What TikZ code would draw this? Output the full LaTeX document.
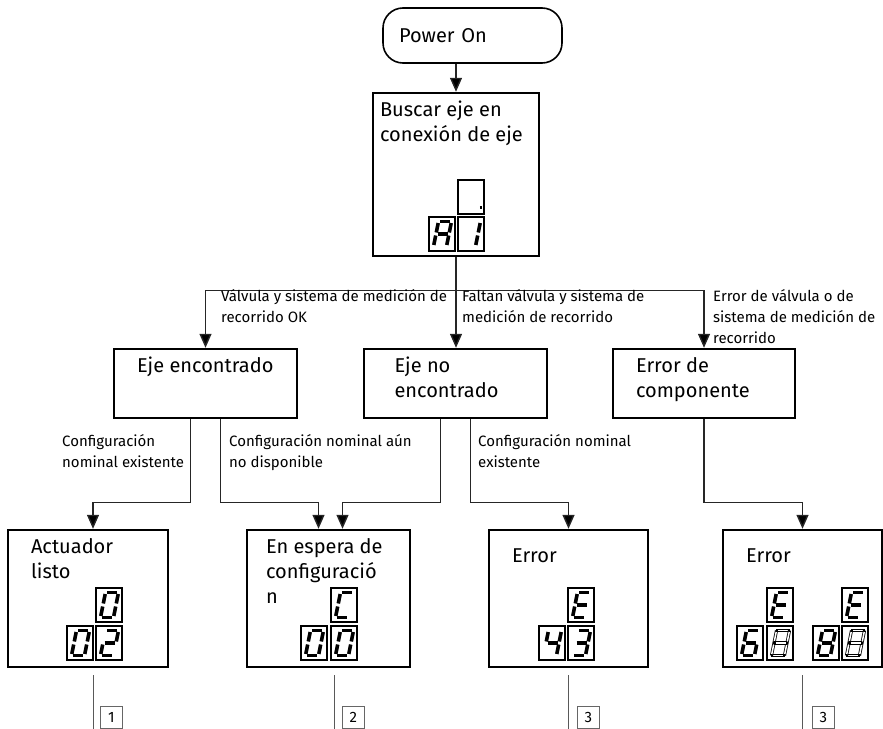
\documentclass[tikz,border=0pt]{standalone}
\usepackage{fontspec}
\setmainfont{Fira Sans}
\usetikzlibrary{arrows.meta,positioning}

\tikzset{
  stepbox/.style={draw, line width=2.4pt, inner sep=0pt},
  boxtext/.style={font=\fontsize{20}{25}\selectfont, align=left, inner sep=0pt, anchor=base west},
  note/.style={font=\fontsize{15}{21}\selectfont, align=left, inner sep=0pt, anchor=base west},
  flow/.style={draw=black!85, line width=1.4pt, -{Triangle[length=14pt,width=12pt,fill=black]}},
  tail/.style={draw=black!65, line width=0.9pt},
  numbox/.style={draw=black!60, line width=0.8pt, minimum width=22pt, minimum height=22pt,
    inner sep=0pt, font=\fontsize{15}{18}\selectfont},
  dispframe/.style={draw, line width=1.3pt},
  segon/.style={line width=3.6pt},
  segghost/.style={draw=white, line width=1.5pt, preaction={draw=black, line width=3.1pt, line cap=rect}},
  seg a/.style={draw=none}, seg b/.style={draw=none}, seg c/.style={draw=none},
  seg d/.style={draw=none}, seg e/.style={draw=none}, seg f/.style={draw=none},
  seg g/.style={draw=none}, seg p/.style={draw=none},
  lit/.style={seg #1/.style={segon}},
  ghost/.style={seg #1/.style={segghost}},
}

% seven segment display, #2 = top left corner
\newcommand{\segdisp}[3][lit]{%
  \begin{scope}[shift={#2}, #1/.list={#3}]
    \draw[dispframe] (0,0) rectangle (26,34);
    \foreach \s/\p/\q in {a/{11,4.5}/{21,4.5}, b/{22.2,6}/{20.3,15.5},
        c/{19.7,18.5}/{17.8,28}, d/{6,29.5}/{16,29.5}, e/{6.7,18.5}/{4.8,28},
        f/{9.2,6}/{7.3,15.5}, g/{8.5,17}/{18.5,17}, p/{21.8,27.5}/{24,27.5}}
      \draw[seg \s] (\p) -- (\q);
  \end{scope}}

\begin{document}
\begin{tikzpicture}[x=1pt, y=-1pt]
  \useasboundingbox (0,0) rectangle (883,728);

  % boxes
  \node[stepbox, line width=1.6pt, rounded corners=20pt, minimum width=179pt, minimum height=55pt,
    text width=147pt, align=left, font=\fontsize{20}{25}\selectfont] (power) at (472.5,35.5) {Power On};
  \node[stepbox, minimum width=166pt, minimum height=163pt] (busca) at (456,174.5) {};
  \node[stepbox, minimum width=183pt, minimum height=69pt] (ejeok) at (205.5,383.5) {};
  \node[stepbox, minimum width=183pt, minimum height=69pt] (ejeno) at (455.5,383.5) {};
  \node[stepbox, minimum width=182pt, minimum height=69pt] (errcomp) at (704,383.5) {};
  \node[stepbox, minimum width=160pt, minimum height=137pt] (listo) at (88,598.5) {};
  \node[stepbox, minimum width=163pt, minimum height=137pt] (espera) at (328.5,598.5) {};
  \node[stepbox, minimum width=159pt, minimum height=137pt] (err43) at (568.5,598.5) {};
  \node[stepbox, minimum width=159pt, minimum height=137pt] (err68) at (802.5,598.5) {};

  % box texts (base = last line)
  \node[boxtext] (busca-t) at ([shift={(8,49.5)}]busca.north west) {Buscar eje en\\conexión de eje};
  \node[boxtext] (ejeok-t) at ([shift={(24,25)}]ejeok.north west) {Eje encontrado};
  \node[boxtext] (ejeno-t) at ([shift={(31.5,50)}]ejeno.north west) {Eje no\\encontrado};
  \node[boxtext] (errcomp-t) at ([shift={(24,50)}]errcomp.north west) {Error de\\componente};
  \node[boxtext] (listo-t) at ([shift={(24,50)}]listo.north west) {Actuador\\listo};
  \node[boxtext] (espera-t) at ([shift={(20,75)}]espera.north west) {En espera de\\configuració\\n};
  \node[boxtext] (err43-t) at ([shift={(24,34)}]err43.north west) {Error};
  \node[boxtext] (err68-t) at ([shift={(24,34)}]err68.north west) {Error};

  % displays
  \segdisp{(458,180)}{p}
  \segdisp{(429,217)}{a,b,c,e,f,g}
  \segdisp{(458,217)}{b,c}
  \segdisp{(96,588)}{a,b,c,d,e,f}
  \segdisp{(67,626)}{a,b,c,d,e,f}
  \segdisp{(96,626)}{a,b,g,e,d}
  \segdisp{(331,588)}{a,f,e,d}
  \segdisp{(301,626)}{a,b,c,d,e,f}
  \segdisp{(331,626)}{a,b,c,d,e,f}
  \segdisp{(568,588)}{a,f,g,e,d}
  \segdisp{(539,626)}{f,g,b,c}
  \segdisp{(568,626)}{a,b,g,c,d}
  \segdisp{(767,588)}{a,f,g,e,d}
  \segdisp{(737,626)}{a,f,g,e,d,c}
  \segdisp[ghost]{(767,626)}{a,b,c,d,e,f,g}
  \segdisp{(842,588)}{a,f,g,e,d}
  \segdisp{(813,626)}{a,b,c,d,e,f,g}
  \segdisp[ghost]{(842,626)}{a,b,c,d,e,f,g}

  % connectors
  \draw[flow] (power.south -| busca.north) -- (busca.north);
  \draw[flow] (busca.south) -- ++(0,33) coordinate (split) -| (ejeok.north);
  \draw[flow] (split) -| (errcomp.north);
  \draw[flow] (busca.south) -- (busca.south |- ejeno.north);
  \draw[flow] ([xshift=-15pt]ejeok.south) -- ++(0,83) -| ([xshift=5pt]listo.north);
  \draw[flow] ([xshift=15pt]ejeok.south) -- ++(0,83) -| ([xshift=-10pt]espera.north);
  \draw[flow] ([xshift=-15pt]ejeno.south) -- ++(0,83) -| ([xshift=14pt]espera.north);
  \draw[flow] ([xshift=15pt]ejeno.south) -- ++(0,83) -| (err43.north);
  \draw[flow] (errcomp.south) -- ++(0,83) -| (err68.north);

  % connector labels (base = last line)
  \node[note] (ok-l) at (221,322) {Válvula y sistema de medición de\\recorrido OK};
  \node[note] (no-l) at (462,322) {Faltan válvula y sistema de\\medición de recorrido};
  \node[note] (err-l) at (713,343) {Error de válvula o de\\sistema de medición de\\recorrido};
  \node[note] (nom1-l) at (62,467) {Configuración\\nominal existente};
  \node[note] (nom2-l) at (229,467) {Configuración nominal aún\\no disponible};
  \node[note] (nom3-l) at (478,467) {Configuración nominal\\existente};

  % continuations
  \draw[tail] ([xshift=5pt]listo.south) ++(0,7) -- ++(0,54);
  \draw[tail] ([xshift=5.5pt]espera.south) ++(0,7) -- ++(0,54);
  \draw[tail] (err43.south) ++(0,7) -- ++(0,54);
  \draw[tail] (err68.south) ++(0,7) -- ++(0,54);
  \node[numbox, anchor=north west] (n1) at ([shift={(12,38)}]listo.south) {1};
  \node[numbox, anchor=north west] (n2) at ([shift={(13.5,38)}]espera.south) {2};
  \node[numbox, anchor=north west] (n3) at ([shift={(8.5,38)}]err43.south) {3};
  \node[numbox, anchor=north west] (n4) at ([shift={(9.5,38)}]err68.south) {3};
\end{tikzpicture}
\end{document}
